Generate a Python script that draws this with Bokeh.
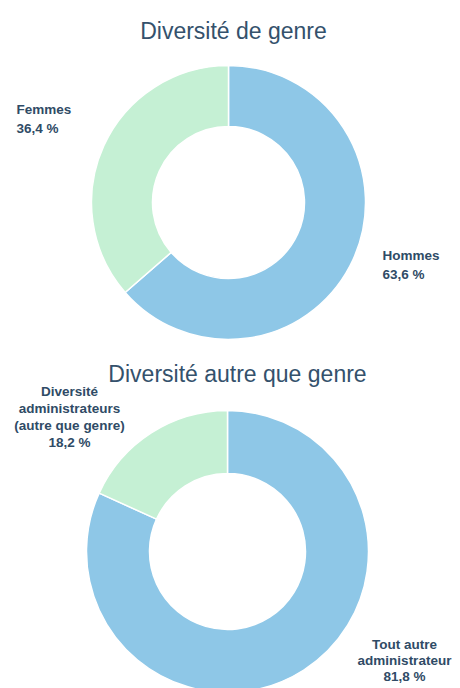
import numpy as np
from bokeh.plotting import figure
from bokeh.models import Range1d, ColumnDataSource
from bokeh.core.properties import value
from bokeh.embed import file_html
from bokeh.resources import INLINE

# ---- data ----
title_gender = "Diversité de genre"
cats_gender = ["Hommes", "Femmes"]
vals_gender = [63.6, 36.4]

title_other = "Diversité autre que genre"
cats_other = ["Tout autre\nadministrateur", "Diversité\nadministrateurs\n(autre que genre)"]
vals_other = [81.8, 18.2]

colors = ["#8ec7e7", "#c5f0d4"]
text_color = "#2f4b66"
title_color = "#34516c"
FONT = "Liberation Sans"

W, H = 460, 688
p = figure(width=W, height=H, x_range=Range1d(0, W), y_range=Range1d(0, H),
           output_backend="svg", toolbar_location=None, min_border=0)
p.axis.visible = False
p.grid.visible = False
p.outline_line_color = None
p.background_fill_color = "white"


def py(y):  # page y -> figure y
    return H - y


def px(x):
    return x


def donut(cx, cy, r_out, r_in, vals):
    v = np.array(vals, dtype=float)
    frac = v / v.sum()
    ends = np.cumsum(frac)
    starts = ends - frac
    start_ang = np.pi / 2 - starts * 2 * np.pi
    end_ang = np.pi / 2 - ends * 2 * np.pi
    src = ColumnDataSource(dict(x=[px(cx)] * len(v), y=[py(cy)] * len(v),
                                s=list(start_ang), e=list(end_ang),
                                c=colors[:len(v)]))
    p.annular_wedge(x="x", y="y", inner_radius=r_in, outer_radius=r_out,
                    start_angle="s", end_angle="e", direction="clock",
                    fill_color="c", line_color="white", line_width=1.5, source=src)


def label(name, val, x, y0, pitch, align):
    lines = name.split("\n") + [f"{val:.1f} %".replace(".", ",")]
    ys = [py(y0 + i * pitch) for i in range(len(lines))]
    p.text(x=[px(x)] * len(lines), y=ys, text=lines, text_font=value(FONT),
           text_font_size="13.5px", text_font_style="bold", text_color=text_color,
           text_align=align, text_baseline="middle")


def title(t, x, y):
    p.text(x=[px(x)], y=[py(y)], text=[t], text_font=value(FONT),
           text_font_size="23px", text_color=title_color,
           text_align="center", text_baseline="alphabetic")


# top chart
title(title_gender, 233, 30)
donut(228, 202, 137, 76, vals_gender)
label(cats_gender[1], vals_gender[1], 16, 109, 19, "left")
label(cats_gender[0], vals_gender[0], 382, 255, 19, "left")

# bottom chart
title(title_other, 237, 373)
donut(227, 551, 141, 78, vals_other)
label(cats_other[1], vals_other[1], 69, 391, 17, "center")
label(cats_other[0], vals_other[0], 404, 644, 16, "center")

open("out.html", "w").write(file_html(p, INLINE))
